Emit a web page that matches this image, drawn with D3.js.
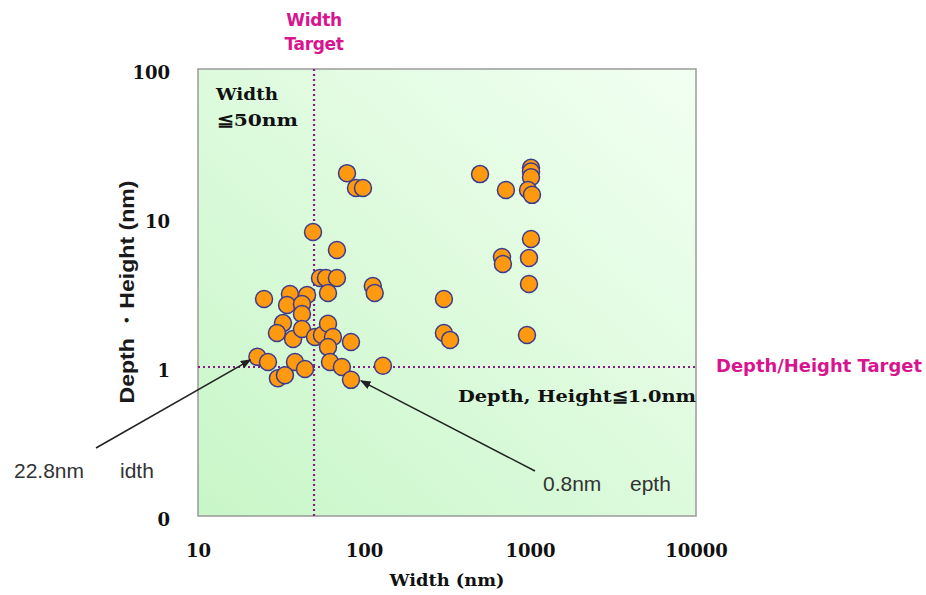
<!DOCTYPE html>
<html>
<head>
<meta charset="utf-8">
<script src="https://cdn.jsdelivr.net/npm/d3@7"></script>
<style>
  body { margin: 0; background: #fff; }
  svg { display: block; }
</style>
</head>
<body>
<div id="chart"></div>
<script>
// data (nm)
const widths = [79, 89.5, 98.6, 49.3, 68.7, 54.3, 59.0, 68.7, 60.7, 25,
  35.8, 45.4, 34.4, 42.3, 42.3, 32.5, 29.9, 37.4, 42.3, 50.7,
  55.8, 60.7, 65.0, 60.7, 83.5, 113, 116, 22.8, 26.4, 38.4,
  44.1, 62.4, 73.6, 83.5, 130, 30.3, 33.4,
  500, 716, 1014, 1014, 1014, 973, 1028, 1014, 678, 687,
  986, 986, 303, 303, 330, 959];
const depths = [20.0, 15.9, 15.9, 8.05, 6.1, 3.96, 3.96, 3.96, 3.14, 2.86,
  3.09, 3.04, 2.61, 2.65, 2.27, 1.97, 1.69, 1.54, 1.80, 1.59,
  1.64, 1.95, 1.59, 1.36, 1.47, 3.5, 3.14, 1.17, 1.08, 1.08,
  0.97, 1.08, 1.0, 0.82, 1.02, 0.84, 0.88,
  19.7, 15.4, 21.7, 20.5, 18.8, 15.4, 14.3, 7.23, 5.47, 4.91,
  5.39, 3.61, 2.86, 1.69, 1.52, 1.64];

const xTickValues = [10, 100, 1000, 10000];
const xTickLabels = ['10', '100', '1000', '10000'];
const yTickValues = [0.1, 1, 10, 100];
const yTickLabels = ['0', '1', '10', '100'];

const widthTarget = 50;
const depthTarget = 1.0;

const W = 926, H = 595;
const margin = { top: 69, left: 198, right: 230, bottom: 79 };
const width = W - margin.left - margin.right;
const height = H - margin.top - margin.bottom;

const svg = d3.select('#chart').append('svg')
  .attr('width', W).attr('height', H);

const defs = svg.append('defs');
const grad = defs.append('linearGradient')
  .attr('id', 'bg').attr('x1', 0).attr('y1', 1).attr('x2', 1).attr('y2', 0);
grad.append('stop').attr('offset', '0%').attr('stop-color', '#c8f6c8');
grad.append('stop').attr('offset', '100%').attr('stop-color', '#f2fff2');

const arrow = defs.append('marker')
  .attr('id', 'arrow').attr('viewBox', '0 0 10 10')
  .attr('refX', 9).attr('refY', 5)
  .attr('markerWidth', 7).attr('markerHeight', 7)
  .attr('orient', 'auto');
arrow.append('path').attr('d', 'M0,1 L10,5 L0,9 Z').attr('fill', '#222');

const g = svg.append('g').attr('transform', `translate(${margin.left},${margin.top})`);

const x = d3.scaleLog().domain([10, 10000]).range([0, width]);
const y = d3.scaleLog().domain([0.1, 100]).range([height, 0]);

g.append('rect')
  .attr('width', width).attr('height', height)
  .attr('fill', 'url(#bg)')
  .attr('stroke', '#9a9a9a').attr('stroke-width', 1.5);

const serif = '"DejaVu Serif", "Liberation Serif", serif';
const sans = '"Liberation Sans", Arial, sans-serif';
const heavySans = '"DejaVu Sans", Verdana, sans-serif';

// axes
const xAxis = d3.axisBottom(x).tickValues(xTickValues)
  .tickFormat((d, i) => xTickLabels[i]).tickSize(0).tickPadding(28);
g.append('g').attr('transform', `translate(0,${height})`).call(xAxis)
  .call(a => a.select('.domain').remove())
  .selectAll('text')
  .style('font-family', serif).style('font-weight', 'bold')
  .style('font-size', '18px').attr('fill', '#111');

const yAxis = d3.axisLeft(y).tickValues(yTickValues)
  .tickFormat((d, i) => yTickLabels[i]).tickSize(0).tickPadding(28);
g.append('g').call(yAxis)
  .call(a => a.select('.domain').remove())
  .selectAll('text')
  .style('font-family', serif).style('font-weight', 'bold')
  .style('font-size', '18px').attr('fill', '#111')
  .attr('dy', '0.5em');

// target lines
g.append('line')
  .attr('x1', x(widthTarget)).attr('x2', x(widthTarget))
  .attr('y1', 0).attr('y2', height)
  .attr('stroke', '#8b1a8b').attr('stroke-width', 2.2)
  .attr('stroke-dasharray', '2,3');
g.append('line')
  .attr('x1', 0).attr('x2', width)
  .attr('y1', y(depthTarget)).attr('y2', y(depthTarget))
  .attr('stroke', '#8b1a8b').attr('stroke-width', 2.2)
  .attr('stroke-dasharray', '2,3');

// points
g.selectAll('circle.pt')
  .data(widths.map((w, i) => [w, depths[i]]))
  .enter().append('circle')
  .attr('class', 'pt')
  .attr('cx', d => x(d[0])).attr('cy', d => y(d[1]))
  .attr('r', 8.5)
  .attr('fill', '#ff9910')
  .attr('stroke', '#3c3c8c').attr('stroke-width', 1.5);

// annotation arrows
g.append('line')
  .attr('x1', 96 - margin.left).attr('y1', 448 - margin.top)
  .attr('x2', x(22.8) - 7).attr('y2', y(1.17) + 3)
  .attr('stroke', '#222').attr('stroke-width', 1.5)
  .attr('marker-end', 'url(#arrow)');
g.append('line')
  .attr('x1', 535 - margin.left).attr('y1', 471 - margin.top)
  .attr('x2', x(83.5) + 10).attr('y2', y(0.82) + 1)
  .attr('stroke', '#222').attr('stroke-width', 1.5)
  .attr('marker-end', 'url(#arrow)');

// texts
const magenta = '#d8148f';
svg.append('text').attr('x', margin.left + x(widthTarget)).attr('y', 26)
  .attr('text-anchor', 'middle').attr('fill', magenta)
  .style('font-family', heavySans).style('font-weight', 'bold').style('font-size', '17px')
  .style('letter-spacing', '-0.3px')
  .text('Width');
svg.append('text').attr('x', margin.left + x(widthTarget)).attr('y', 50)
  .attr('text-anchor', 'middle').attr('fill', magenta)
  .style('font-family', heavySans).style('font-weight', 'bold').style('font-size', '17px')
  .style('letter-spacing', '-0.3px')
  .text('Target');
svg.append('text').attr('x', 716).attr('y', margin.top + y(depthTarget) + 5)
  .attr('fill', magenta)
  .attr('textLength', 206).attr('lengthAdjust', 'spacingAndGlyphs')
  .style('font-family', heavySans).style('font-weight', 'bold').style('font-size', '17px')
  .text('Depth/Height Target');

svg.append('text').attr('x', 216).attr('y', 100)
  .attr('fill', '#111')
  .attr('textLength', 62).attr('lengthAdjust', 'spacingAndGlyphs')
  .style('font-family', serif).style('font-weight', 'bold').style('font-size', '17px')
  .text('Width');
svg.append('text').attr('x', 217).attr('y', 126)
  .attr('fill', '#111')
  .attr('textLength', 81).attr('lengthAdjust', 'spacingAndGlyphs')
  .style('font-family', serif).style('font-weight', 'bold').style('font-size', '17px')
  .text('≦50nm');
svg.append('text').attr('x', 696).attr('y', 402)
  .attr('text-anchor', 'end').attr('fill', '#111')
  .attr('textLength', 238).attr('lengthAdjust', 'spacingAndGlyphs')
  .style('font-family', serif).style('font-weight', 'bold').style('font-size', '17px')
  .text('Depth, Height≦1.0nm');

const noteStyle = t => t.attr('fill', '#333')
  .style('font-family', sans).style('font-size', '21px');
svg.append('text').attr('x', 14).attr('y', 478).call(noteStyle).text('22.8nm');
svg.append('text').attr('x', 120).attr('y', 478).call(noteStyle).text('idth');
svg.append('text').attr('x', 543).attr('y', 491).call(noteStyle).text('0.8nm');
svg.append('text').attr('x', 630).attr('y', 491).call(noteStyle).text('epth');

// axis titles
svg.append('text').attr('x', 447).attr('y', 586)
  .attr('text-anchor', 'middle').attr('fill', '#111')
  .attr('textLength', 115).attr('lengthAdjust', 'spacingAndGlyphs')
  .style('font-family', serif).style('font-weight', 'bold').style('font-size', '17px')
  .text('Width (nm)');
svg.append('text')
  .attr('transform', `translate(134,292) rotate(-90)`)
  .attr('text-anchor', 'middle').attr('fill', '#1a1a1a')
  .attr('textLength', 223).attr('lengthAdjust', 'spacingAndGlyphs')
  .style('font-family', sans).style('font-size', '21px')
  .style('font-weight', 'bold')
  .text('Depth ・Height (nm)');
</script>
</body>
</html>
